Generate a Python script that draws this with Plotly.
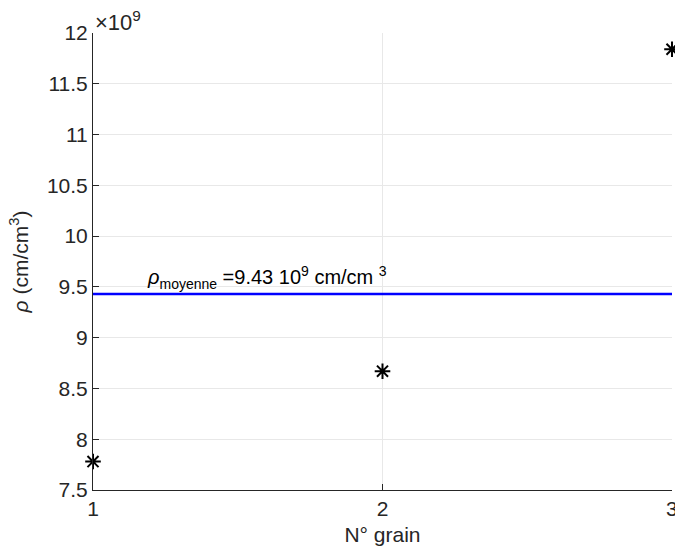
import plotly.graph_objects as go

grains = [1, 2, 3]
rho = [7.78e9, 8.67e9, 11.84e9]
rho_mean = 9.43e9
y_ticks = [7.5, 8, 8.5, 9, 9.5, 10, 10.5, 11, 11.5, 12]
y_tick_labels = ["7.5", "8", "8.5", "9", "9.5", "10", "10.5", "11", "11.5", "12"]
x_ticks = [1, 2, 3]
scale = 1e9

FONT = "Liberation Sans, Arial, Helvetica"
fig = go.Figure()
fig.add_trace(go.Scatter(
    x=[grains[0], grains[-1]], y=[rho_mean / scale] * 2, mode="lines",
    line=dict(color="#0000ff", width=2.5), showlegend=False, cliponaxis=False))
fig.add_trace(go.Scatter(
    x=grains, y=[v / scale for v in rho], mode="markers",
    marker=dict(symbol="asterisk-open", size=13, color="black",
                line=dict(color="black", width=2)),
    showlegend=False, cliponaxis=False))

axis_common = dict(showgrid=True, gridcolor="#e8e8e8", gridwidth=1, zeroline=False,
                   showline=True, linecolor="#262626", linewidth=1, ticks="inside",
                   ticklen=6, tickcolor="#262626",
                   tickfont=dict(family=FONT, size=21, color="#262626"))

# last x tick label drawn as annotation so it can be clipped by the window edge like the reference
x_tick_annots = [
    dict(x=t, y=0, xref="x", yref="paper", xanchor="center", yanchor="top",
         text=str(t), showarrow=False, yshift=-5, font=dict(size=21, color="#262626"))
    for t in x_ticks[-1:]
]

fig.update_layout(
    width=675, height=554, plot_bgcolor="white", paper_bgcolor="white",
    margin=dict(l=93, r=3, t=33, b=64),
    font=dict(family=FONT, size=21, color="#262626"),
    xaxis=dict(range=[1, 3], tickvals=x_ticks, ticktext=[str(t) for t in x_ticks],
               title=dict(text="N° grain", font=dict(size=21), standoff=8), **axis_common),
    yaxis=dict(range=[7.5, 12], tickvals=y_ticks, ticktext=y_tick_labels,
               title=dict(text="<i>ρ</i> (cm/cm<sup>3</sup>)", font=dict(size=21), standoff=12),
               **axis_common),
    annotations=[
        dict(x=0, y=1, xref="paper", yref="paper", xanchor="left", yanchor="bottom",
             text="×10<sup>9</sup>", showarrow=False, xshift=0, yshift=-4,
             font=dict(size=22, color="#262626")),
        dict(x=1.18, y=rho_mean / scale, xref="x", yref="y", xanchor="left", yanchor="bottom",
             text="<i>ρ</i><sub>moyenne</sub> =9.43 10<sup>9</sup> cm/cm <sup>3</sup>",
             showarrow=False, yshift=0, font=dict(size=20, color="black")),
    ] + x_tick_annots,
)

fig.write_html("out.html", config={"displayModeBar": False},
               post_script="document.body.style.margin='0';document.body.style.overflow='hidden';")
